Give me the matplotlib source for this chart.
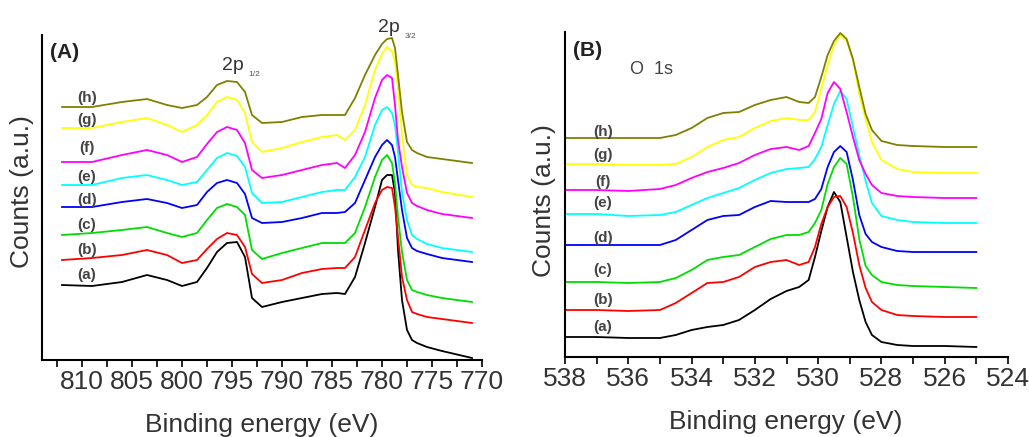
import matplotlib
matplotlib.use("Agg")
import matplotlib.pyplot as plt
from matplotlib import font_manager

# fuentes disponibles
nombres = {f.name for f in font_manager.fontManager.ttflist}
fuente = "Liberation Sans" if "Liberation Sans" in nombres else "DejaVu Sans"
fuente_ticks = "Liberation Sans Narrow" if "Liberation Sans Narrow" in nombres else fuente
plt.rcParams["font.family"] = [fuente, "DejaVu Sans"]

etiquetas = ["(a)", "(b)", "(c)", "(d)", "(e)", "(f)", "(g)", "(h)"]
colores = ["black", "#ff0000", "#00dd00", "#0000ff", "#00ffff", "#ff00ff", "#ffff00", "#808000"]

# ---- Panel A: Co 2p ----
energia_A = [812, 809, 806, 803.5, 801.5, 800, 798.5, 797.5, 796.5, 795.5, 794.5, 793.7,
             793, 792, 790, 788, 786, 784.5, 783.7, 782.7, 781.7, 780.7, 780.0, 779.5,
             779.0, 778.7, 778.4, 778.0, 777.5, 777.0, 776.5, 775.5, 774, 771]

a_A = [75, 74, 78, 85, 80, 74, 78, 92, 108, 117, 118, 103, 62, 53, 58, 62, 66, 67, 66,
       83, 117, 153, 180, 185, 185, 167, 110, 60, 30, 20, 17, 13, 9, 2]
b_A = [100, 102, 105, 110, 105, 97, 100, 111, 121, 127, 125, 113, 86, 77, 80, 87, 91, 92,
       92, 103, 130, 157, 170, 173, 172, 153, 123, 83, 60, 48, 46, 43, 41, 37]
c_A = [125, 127, 130, 133, 127, 123, 127, 140, 152, 156, 153, 145, 110, 101, 107, 112,
       117, 117, 117, 127, 153, 183, 200, 205, 197, 177, 143, 108, 80, 70, 68, 65, 62, 58]
d_A = [153, 153, 158, 161, 157, 152, 155, 168, 177, 180, 177, 166, 142, 137, 138, 142,
       147, 147, 148, 157, 180, 203, 215, 220, 215, 203, 180, 150, 122, 112, 109, 106, 102, 98]
e_A = [175, 175, 182, 185, 180, 175, 178, 190, 202, 207, 204, 193, 167, 157, 158, 163,
       168, 170, 170, 183, 203, 235, 250, 253, 247, 235, 208, 168, 140, 125, 121, 116, 112, 108]
f_A = [198, 198, 205, 210, 205, 198, 203, 216, 228, 233, 230, 217, 190, 182, 185, 190,
       195, 197, 192, 205, 228, 262, 280, 285, 282, 255, 220, 193, 167, 157, 154, 150, 146, 142]
g_A = [232, 232, 238, 242, 235, 228, 235, 245, 258, 263, 260, 247, 218, 208, 212, 218,
       223, 225, 220, 230, 255, 290, 306, 313, 309, 298, 272, 225, 185, 175, 173, 172, 168, 163]
h_A = [253, 253, 258, 261, 255, 252, 255, 263, 275, 279, 278, 268, 245, 237, 238, 243,
       245, 245, 245, 262, 285, 305, 316, 321, 322, 312, 285, 248, 218, 210, 207, 203, 201, 197]

# ---- Panel B: O 1s ----
energia_B = [538, 537, 536, 535, 534.5, 534, 533.5, 533, 532.5, 532, 531.5, 531, 530.6,
             530.3, 530.1, 529.9, 529.7, 529.5, 529.3, 529.1, 528.9, 528.7, 528.5, 528.3,
             528.0, 527.5, 527, 526, 525]

a_B = [20, 20, 19, 19, 22, 27, 30, 32, 37, 47, 58, 66, 70, 77, 100, 126, 150, 165, 155,
       120, 85, 57, 35, 22, 15, 12, 11, 11, 10]
b_B = [47, 47, 46, 47, 54, 64, 74, 75, 80, 90, 95, 97, 92, 95, 110, 133, 150, 160, 161,
       150, 124, 92, 69, 55, 47, 42, 41, 40, 40]
c_B = [75, 75, 74, 75, 79, 87, 97, 100, 102, 110, 118, 122, 122, 125, 134, 147, 173, 190,
       199, 193, 160, 118, 91, 82, 75, 72, 71, 70, 69]
d_B = [112, 112, 112, 112, 117, 127, 137, 141, 142, 150, 156, 155, 155, 155, 158, 168,
       190, 205, 211, 205, 177, 142, 123, 115, 110, 106, 105, 105, 105]
e_B = [143, 143, 141, 142, 145, 152, 159, 164, 169, 177, 184, 188, 189, 190, 198, 210,
       232, 253, 266, 258, 230, 202, 176, 154, 141, 137, 135, 134, 134]
f_B = [167, 167, 166, 168, 172, 179, 185, 189, 194, 202, 208, 210, 207, 211, 224, 238,
       264, 275, 268, 245, 220, 197, 183, 172, 164, 161, 160, 159, 159]
g_B = [193, 193, 192, 192, 193, 200, 210, 217, 220, 229, 236, 239, 237, 237, 245, 268,
       292, 312, 322, 316, 297, 263, 238, 215, 197, 188, 185, 184, 184]
h_B = [219, 219, 219, 219, 222, 229, 239, 244, 245, 252, 257, 260, 255, 254, 260, 280,
       302, 316, 324, 318, 298, 270, 243, 227, 216, 212, 211, 210, 210]

curvas_A = [a_A, b_A, c_A, d_A, e_A, f_A, g_A, h_A]
curvas_B = [a_B, b_B, c_B, d_B, e_B, f_B, g_B, h_B]

# posiciones de las etiquetas (a)-(h)
etiq_y_A = [85, 110, 135, 160, 183, 212, 240, 262]
etiq_y_B = [30, 57, 87, 119, 154, 175, 202, 225]

W, H = 1029, 437
fig = plt.figure(figsize=(W / 100, H / 100), dpi=100)
gris = "#333333"


def ejes(px_izq, px_der, px_abajo, px_arriba):
    return fig.add_axes([px_izq / W, 1 - px_abajo / H,
                         (px_der - px_izq) / W, (px_abajo - px_arriba) / H])


def estilo(ax):
    for lado in ["top", "right"]:
        ax.spines[lado].set_visible(False)
    for lado in ["left", "bottom"]:
        ax.spines[lado].set_linewidth(1.5)
    ax.set_yticks([])
    ax.tick_params(axis="x", which="both", direction="out", length=5, width=1.2,
                   pad=2, labelsize=19, labelcolor=gris)
    for t in ax.get_xticklabels():
        t.set_fontfamily(fuente_ticks)


axA = ejes(42, 482, 360, 35)
for y, c in zip(curvas_A, colores):
    axA.plot(energia_A, y, color=c, lw=1.3)
axA.set_xlim(814, 770)
axA.set_ylim(0, 325)
axA.set_xticks(range(810, 769, -5))
axA.set_xticks([812.5 - 5 * i for i in range(9)], minor=True)
estilo(axA)
for et, y in zip(etiquetas, etiq_y_A):
    axA.text(809.5, y, et, ha="center", va="center", fontsize=11, fontweight="bold", color="#444444")

axB = ejes(565, 1008, 357, 32)
for y, c in zip(curvas_B, colores):
    axB.plot(energia_B, y, color=c, lw=1.3)
axB.set_xlim(538, 524)
axB.set_ylim(0, 325)
axB.set_xticks(range(538, 523, -2))
axB.set_xticks(range(537, 524, -2), minor=True)
estilo(axB)
for et, y in zip(etiquetas, etiq_y_B):
    axB.text(536.8, y, et, ha="center", va="center", fontsize=11, fontweight="bold", color="#444444")


def texto(px, py, s, **kw):
    fig.text(px / W, 1 - py / H, s, **kw)


texto(65, 53, "(A)", ha="center", va="center", fontsize=15, fontweight="bold", color="#222222")
texto(588, 50, "(B)", ha="center", va="center", fontsize=15, fontweight="bold", color="#222222")
texto(652, 70, "O  1s", ha="center", va="center", fontsize=13, color="#444444")
texto(233, 65, "2p", ha="center", va="center", fontsize=14, color="#333333")
texto(254, 75, "1/2", ha="center", va="center", fontsize=6, color="#555555")
texto(389, 27, "2p", ha="center", va="center", fontsize=14, color="#333333")
texto(410, 37, "3/2", ha="center", va="center", fontsize=6, color="#555555")

texto(22, 192, "Counts (a.u.)", rotation=90, ha="center", va="center", fontsize=19, color=gris)
texto(544, 201, "Counts (a.u.)", rotation=90, ha="center", va="center", fontsize=19, color=gris)
texto(262, 413, "Binding energy (eV)", ha="center", va="top", fontsize=19, color=gris)
texto(786, 410, "Binding energy (eV)", ha="center", va="top", fontsize=19, color=gris)

fig.savefig("out.png", dpi=100)
